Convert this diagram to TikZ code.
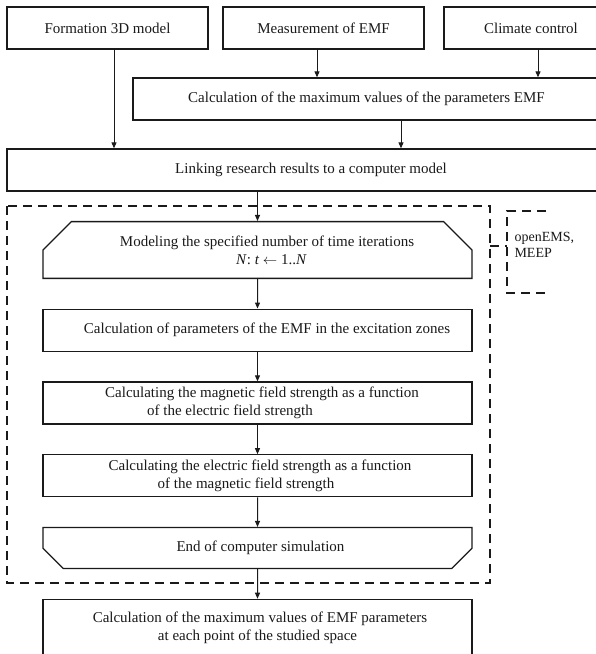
\documentclass[tikz,border=0pt]{standalone}
\usepackage{fontspec}
\setmainfont{Liberation Serif}
\usetikzlibrary{arrows.meta,positioning,shapes.misc}
\definecolor{Ink}{HTML}{1A1A1A}
\definecolor{Paper}{HTML}{FFFFFF}

\begin{document}
\begin{tikzpicture}[x=1pt,y=-1pt,font=\fontsize{15}{18}\selectfont,text=Ink,node distance=29.5pt,flowline/.style={draw=Ink,line width=1pt,-{Triangle[length=6pt,width=5pt]}},process/.style={rectangle,draw=Ink,line width=1.3pt,fill=Paper,minimum width=429pt,minimum height=42pt,align=center,inner sep=2pt},loopstart/.style={process,chamfered rectangle,chamfered rectangle corners={north west,north east},chamfered rectangle xsep=32pt,chamfered rectangle ysep=18pt,inner ysep=-4pt,minimum height=56pt},loopend/.style={process,chamfered rectangle,chamfered rectangle corners={south west,south east},chamfered rectangle xsep=32pt,chamfered rectangle ysep=15pt,inner ysep=-1.5pt,minimum height=41pt},groupline/.style={draw=Ink,line width=1.2pt,dash pattern=on 9pt off 6pt}]
\path[use as bounding box,fill=Paper] (0,0) rectangle (596,654);
\clip (0,0) rectangle (596,654);
% sources
\node[process,minimum width=201pt] (form) at (107.5,28) {Formation 3D model};
\node[process,minimum width=201pt] (meas) at (323.5,28) {Measurement of EMF};
\node[process,minimum width=174pt] (clim) at (531,28) {Climate control};
\node[process,minimum width=467pt] (calcmax) at (366.5,99) {Calculation of the maximum values of the parameters EMF};
\node[process,minimum width=608pt] (link) at (311,170) {Linking research results to a computer model};
% simulation loop
\node[loopstart] (model) at (257.5,250) {\hspace*{19pt}Modeling the specified number of time iterations\\\hspace*{28pt}\textit{N}: \textit{t} $\leftarrow$ 1..\textit{N}};
\node[process,below=of model] (zone) {\hspace*{19pt}Calculation of parameters of the EMF in the excitation zones};
\node[process,below=of zone] (magn) {\hspace*{9pt}Calculating the magnetic field strength as a function\\of the electric field strength\hspace*{55pt}};
\node[process,below=of magn] (elec) {\hspace*{5pt}Calculating the electric field strength as a function\\of the magnetic field strength\hspace*{23pt}};
\node[loopend,below=of elec] (endsim) {\hspace*{6pt}End of computer simulation};
\node[process,minimum height=56pt,below=of endsim] (peak) {\hspace*{5pt}Calculation of the maximum values of EMF parameters\\at each point of the studied space};
\draw[flowline] ([xshift=6.5pt]form.south) -- ([xshift=6.5pt]form.south |- link.north);
\draw[flowline] ([xshift=-6.5pt]meas.south) -- ([xshift=-6.5pt]meas.south |- calcmax.north);
\draw[flowline] ([xshift=7pt]clim.south) -- ([xshift=7pt]clim.south |- calcmax.north);
\draw[flowline] ([xshift=34.5pt]calcmax.south) -- ([xshift=34.5pt]calcmax.south |- link.north);
\draw[flowline] (model.north |- link.south) -- (model.north);
\foreach \a/\b in {model/zone,zone/magn,magn/elec,elec/endsim,endsim/peak}
  \draw[flowline] (\a) -- (\b);
% solver group
\draw[groupline] (7,206) rectangle (490,583);
\draw[groupline] (490,246) -- (507,246);
\draw[groupline] (546,211) -| (507,293) -- (546,293);
\node[anchor=west,align=left,font=\fontsize{14}{16}\selectfont] (tools) at (511,245) {openEMS,\\MEEP};
\end{tikzpicture}
\end{document}
